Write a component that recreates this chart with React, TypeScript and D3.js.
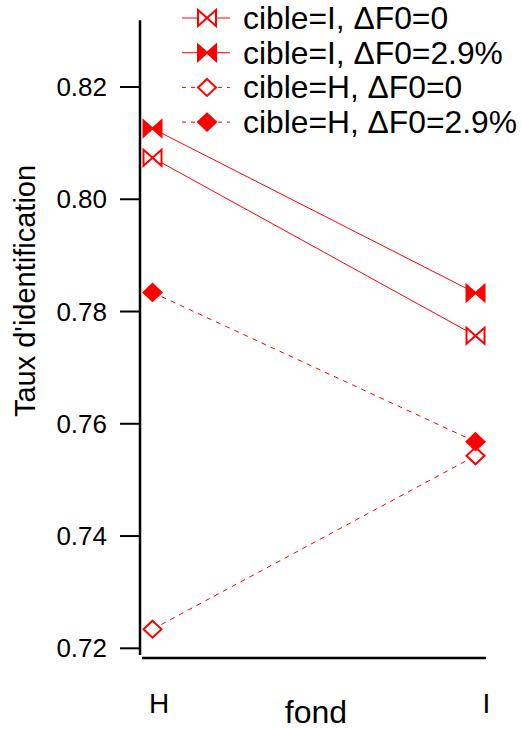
import React from 'react';
import * as d3 from 'd3';

// fond (x categories)
const fonds = ['H', 'I'];

// series values, one per fond
const seriesNames = ['cible=I, ΔF0=0', 'cible=I, ΔF0=2.9%', 'cible=H, ΔF0=0', 'cible=H, ΔF0=2.9%'];
const iF0 = [0.8074, 0.7757];
const iF29 = [0.8126, 0.7833];
const hF0 = [0.7234, 0.7543];
const hF29 = [0.7834, 0.7568];

const yTicks = [0.72, 0.74, 0.76, 0.78, 0.8, 0.82];

const RED = '#ff0000';
const FONT = '"Liberation Sans", Arial, sans-serif';

const series = [
  { name: seriesNames[0], values: iF0, marker: 'bowtie', filled: false, dashed: false },
  { name: seriesNames[1], values: iF29, marker: 'bowtie', filled: true, dashed: false },
  { name: seriesNames[2], values: hF0, marker: 'diamond', filled: false, dashed: true },
  { name: seriesNames[3], values: hF29, marker: 'diamond', filled: true, dashed: true },
];

const bowtie = 'M-9,-8L9,8L9,-8L-9,8Z';
const diamond = 'M0,-8.5L9,0L0,8.5L-9,0Z';

const Marker = ({ kind, filled, x, y }) => (
  <path
    d={kind === 'bowtie' ? bowtie : diamond}
    transform={`translate(${x},${y})`}
    fill={filled ? RED : '#fff'}
    stroke={RED}
    strokeWidth={2}
    strokeLinejoin="miter"
  />
);

const App = () => {
  const width = 522;
  const height = 729;

  const x = d3.scalePoint().domain(fonds).range([142, 486]).padding(0.0325);
  const y = d3.scaleLinear().domain([0.72, 0.82]).range([648.3, 87]);
  const line = d3.line<number>().x((d, i) => x(fonds[i])).y((d) => y(d));

  const legendY = (i) => 18 + i * 34.7;

  return (
    <div style={{ position: 'absolute', left: 0, top: 0 }}>
      <svg width={width} height={height} style={{ display: 'block', background: '#fff' }}>
        {/* axes */}
        <line x1={140} x2={140} y1={y(0.8319)} y2={y(0.7188)} stroke="#000" strokeWidth={2.5} />
        <line x1={142} x2={486} y1={658} y2={658} stroke="#000" strokeWidth={2.5} />
        {yTicks.map((t) => (
          <g key={t}>
            <line x1={120} x2={140} y1={y(t)} y2={y(t)} stroke="#000" strokeWidth={2} />
            <text x={107} y={y(t) + 9} textAnchor="end" fontSize={26} fontFamily={FONT}>
              {t.toFixed(2)}
            </text>
          </g>
        ))}
        {fonds.map((f, i) => (
          <text key={f} x={x(f) + (i === 0 ? 6.5 : 11)} y={713} textAnchor="middle" fontSize={28} fontFamily={FONT}>
            {f}
          </text>
        ))}
        <text x={316} y={723} textAnchor="middle" fontSize={32} fontFamily={FONT}>fond</text>
        <text
          transform={`translate(35,291) rotate(-90)`}
          textAnchor="middle"
          fontSize={29}
          fontFamily={FONT}
        >
          Taux d'identification
        </text>

        {/* series lines */}
        {series.map((s) => (
          <path
            key={s.name + 'l'}
            d={line(s.values)}
            fill="none"
            stroke={RED}
            strokeWidth={1}
            strokeDasharray={s.dashed ? '5,5' : null}
          />
        ))}
        {series.map((s) =>
          s.values.map((v, i) => (
            <Marker key={s.name + i} kind={s.marker} filled={s.filled} x={x(fonds[i])} y={y(v)} />
          ))
        )}

        {/* legend */}
        {series.map((s, i) => (
          <g key={s.name + 'leg'}>
            <line
              x1={182}
              x2={230}
              y1={legendY(i)}
              y2={legendY(i)}
              stroke={RED}
              strokeWidth={1}
              strokeDasharray={s.dashed ? '4,5' : null}
            />
            <Marker kind={s.marker} filled={s.filled} x={207} y={legendY(i)} />
            <text x={243} y={legendY(i) + 11} fontSize={31.8} fontFamily={FONT}>
              {s.name}
            </text>
          </g>
        ))}
      </svg>
    </div>
  );
};

export default App;
